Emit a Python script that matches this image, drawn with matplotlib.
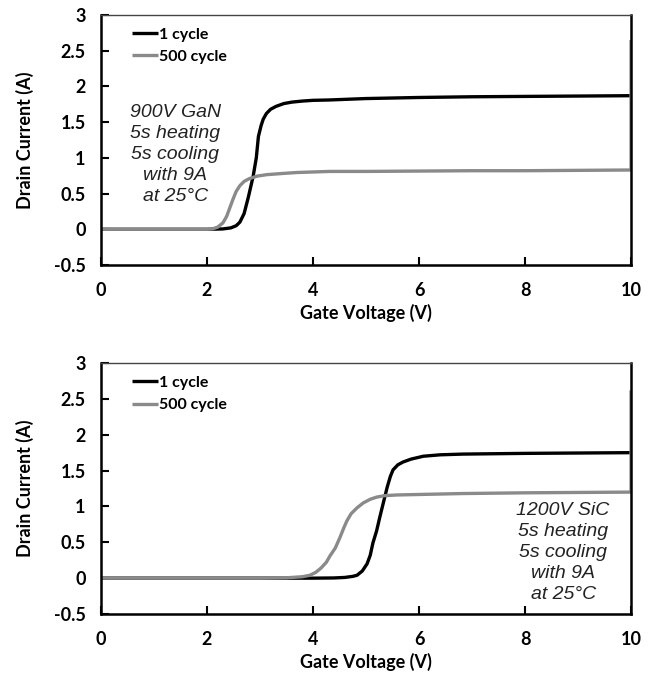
import matplotlib
matplotlib.use("Agg")
import matplotlib.pyplot as plt

# ---- data ----
gan_1_x = [0, 1, 2, 2.3, 2.45, 2.55, 2.62, 2.7, 2.78, 2.87, 2.93, 2.97, 3.02, 3.06, 3.12, 3.2, 3.3, 3.45, 3.6, 3.8, 4.0, 4.3, 5, 6, 7, 8, 9, 10]
gan_1_y = [0, 0, 0, 0.005, 0.02, 0.05, 0.1, 0.22, 0.45, 0.74, 1.0, 1.3, 1.45, 1.54, 1.62, 1.68, 1.72, 1.76, 1.78, 1.795, 1.805, 1.81, 1.83, 1.845, 1.855, 1.86, 1.865, 1.87]
gan_500_x = [0, 1, 2, 2.1, 2.2, 2.3, 2.37, 2.43, 2.49, 2.55, 2.62, 2.7, 2.8, 2.95, 3.13, 3.4, 3.7, 4.32, 5, 6, 7, 8, 9, 10, 10]
gan_500_y = [0, 0, 0, 0.005, 0.03, 0.09, 0.18, 0.3, 0.42, 0.53, 0.61, 0.67, 0.71, 0.745, 0.765, 0.78, 0.795, 0.81, 0.81, 0.815, 0.82, 0.82, 0.825, 0.83, 2.65]

sic_1_x = [0, 2, 4, 4.4, 4.6, 4.75, 4.83, 4.93, 5.02, 5.08, 5.13, 5.2, 5.26, 5.33, 5.4, 5.46, 5.51, 5.6, 5.7, 5.85, 6.08, 6.4, 6.83, 8, 9, 10]
sic_1_y = [0, 0, 0, 0.003, 0.01, 0.025, 0.04, 0.1, 0.2, 0.32, 0.49, 0.66, 0.85, 1.06, 1.27, 1.42, 1.51, 1.58, 1.62, 1.66, 1.70, 1.72, 1.73, 1.74, 1.745, 1.75]
sic_500_x = [0, 2, 3, 3.5, 3.8, 3.94, 4.05, 4.15, 4.25, 4.32, 4.42, 4.51, 4.58, 4.64, 4.72, 4.83, 4.95, 5.08, 5.2, 5.35, 5.58, 6.2, 6.83, 8, 9, 10, 10]
sic_500_y = [0, 0, 0, 0.005, 0.02, 0.04, 0.08, 0.14, 0.22, 0.31, 0.42, 0.57, 0.7, 0.8, 0.9, 0.98, 1.05, 1.1, 1.13, 1.15, 1.16, 1.17, 1.18, 1.19, 1.195, 1.2, 2.62]

legend_labels = ["1 cycle", "500 cycle"]
x_ticks = [0, 2, 4, 6, 8, 10]
y_ticks = [-0.5, 0, 0.5, 1, 1.5, 2, 2.5, 3]
y_tick_labels = ["-0.5", "0", "0.5", "1", "1.5", "2", "2.5", "3"]
gan_note = "900V GaN\n5s heating\n5s cooling\nwith 9A\nat 25°C"
sic_note = "1200V SiC\n5s heating\n5s cooling\nwith 9A\nat 25°C"

BLACK = "#000000"
GRAY = "#8a8a8a"
FONT = "Lato"

fig = plt.figure(figsize=(6.58, 6.74), dpi=100)
ax1 = fig.add_axes([0.1535, 0.6068, 0.8055, 0.371])
ax2 = fig.add_axes([0.1535, 0.089, 0.8055, 0.3724])

panels = [
    (ax1, gan_1_x, gan_1_y, gan_500_x, gan_500_y, gan_note, 1.4, 1.05),
    (ax2, sic_1_x, sic_1_y, sic_500_x, sic_500_y, sic_note, 8.72, 0.36),
]

for ax, x1, y1, x5, y5, note, nx, ny in panels:
    ax.plot(x1, y1, color=BLACK, lw=2.4, label=legend_labels[0], solid_capstyle="butt")
    ax.plot(x5, y5, color=GRAY, lw=2.4, label=legend_labels[1], solid_capstyle="butt")
    ax.set_xlim(0, 10)
    ax.set_ylim(-0.5, 3)
    ax.set_xticks(x_ticks)
    ax.set_yticks(y_ticks)
    ax.set_yticklabels(y_tick_labels)
    ax.tick_params(direction="in", length=6, width=1.5, labelsize=13, pad=11)
    ax.tick_params(axis="x", pad=12)
    for lab in ax.get_xticklabels() + ax.get_yticklabels():
        lab.set_fontweight("bold")
        lab.set_family(FONT)
    ax.set_xlabel("Gate Voltage (V)", fontsize=13, fontweight="bold", family=FONT, labelpad=4)
    ax.set_ylabel("Drain Current (A)", fontsize=13, fontweight="bold", family=FONT, labelpad=14)
    for s in ["left", "bottom", "right"]:
        ax.spines[s].set_linewidth(1.8)
        ax.spines[s].set_color(BLACK)
    ax.spines["top"].set_linewidth(1.0)
    ax.spines["top"].set_color("#444444")
    leg = ax.legend(loc="upper left", frameon=False, handlelength=1.6, handletextpad=0.1,
                    borderaxespad=0.4, labelspacing=0.5, bbox_to_anchor=(0.035, 1.0),
                    prop={"family": FONT, "weight": "bold", "size": 11.5})
    ax.text(nx, ny, note, ha="center", va="center", fontsize=14, style="italic",
            family="Liberation Sans", color="#222222", linespacing=1.3)

fig.savefig("out.png", dpi=100)
